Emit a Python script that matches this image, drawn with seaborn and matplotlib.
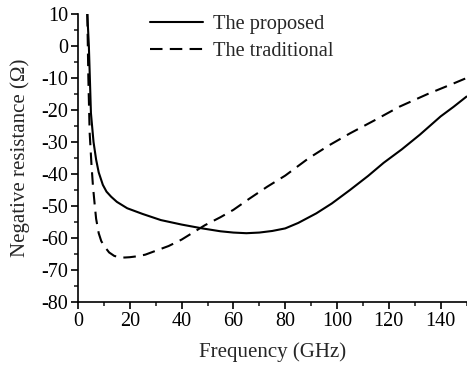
import numpy as np
import pandas as pd
import matplotlib
matplotlib.use("Agg")
import matplotlib.pyplot as plt
import seaborn as sns
from matplotlib.ticker import MultipleLocator

freq_proposed = [3.6, 4.2, 5, 6, 7, 8, 9.6, 11, 12.8, 15, 19, 25, 32, 40, 48, 55, 60, 65, 70,
                 75, 80, 85, 92, 98, 105, 112, 118, 125, 132, 140, 145, 150]
res_proposed = [10, 0, -21, -30, -35.5, -39.5, -43.4, -45.5, -47.1, -48.7, -50.7, -52.5, -54.4,
                -55.8, -57, -57.9, -58.3, -58.5, -58.3, -57.8, -57, -55.3, -52.3, -49.2, -45,
                -40.6, -36.5, -32.3, -27.7, -22, -19, -15.8]
freq_traditional = [3.6, 4.0, 4.5, 5.2, 5.8, 6.5, 7.0, 8, 9, 10.3, 12, 14, 16, 18, 20, 23, 26, 30,
                    35, 40, 44, 49, 55, 60, 66, 73, 80, 89, 97, 105, 115, 124, 135, 145, 150]
res_traditional = [10, -10, -27, -37, -44, -50, -54, -58.5, -61, -62.7, -64.5, -65.6, -66, -66.1,
                   -66, -65.7, -65.2, -64, -62.5, -60.5, -58.5, -56, -53.5, -51.2, -47.8, -44,
                   -40.5, -35.1, -31, -27.3, -23, -19, -15, -11.7, -10]
series_names = ["The proposed", "The traditional"]
x_ticks = [0, 20, 40, 60, 80, 100, 120, 140]
y_ticks = [-80, -70, -60, -50, -40, -30, -20, -10, 0, 10]

df = pd.concat([
    pd.DataFrame({"f": freq_proposed, "r": res_proposed, "s": series_names[0]}),
    pd.DataFrame({"f": freq_traditional, "r": res_traditional, "s": series_names[1]}),
])

sns.set_style("ticks")
plt.rcParams["font.family"] = ["Liberation Serif", "DejaVu Serif"]
plt.rcParams["axes.unicode_minus"] = False
plt.rcParams["xtick.direction"] = "out"
plt.rcParams["ytick.direction"] = "out"

fig = plt.figure(figsize=(4.67, 3.65), dpi=100)
ax = fig.add_axes([0.167, 0.1726, 0.832, 0.789])

sns.lineplot(data=df, x="f", y="r", style="s", sort=False, color="black", linewidth=1.5,
             dashes={series_names[0]: "", series_names[1]: (6, 3.5)}, ax=ax, legend=True)

ax.set_xlim(0, 150)
ax.set_ylim(-80, 10)
ax.set_xticks(x_ticks)
ax.set_yticks(y_ticks)
ax.xaxis.set_minor_locator(MultipleLocator(10))
ax.yaxis.set_minor_locator(MultipleLocator(5))
ax.tick_params(which="major", length=5, width=1.2, labelsize=14.5, colors="black", pad=2)
ax.tick_params(which="minor", length=3, width=1.2)
for s in ["top", "right"]:
    ax.spines[s].set_visible(False)
for s in ["left", "bottom"]:
    ax.spines[s].set_linewidth(1.2)
    ax.spines[s].set_color("black")

ax.set_xlabel("Frequency (GHz)", fontsize=15, labelpad=8)
ax.set_ylabel("Negative resistance (Ω)", fontsize=15, labelpad=8)

leg = ax.legend(loc="upper left", bbox_to_anchor=(0.139, 1.06), frameon=False, fontsize=14.7,
                handlelength=2.6, handletextpad=0.45, labelspacing=0.35, title=None)

fig.savefig("out.png", dpi=100)
